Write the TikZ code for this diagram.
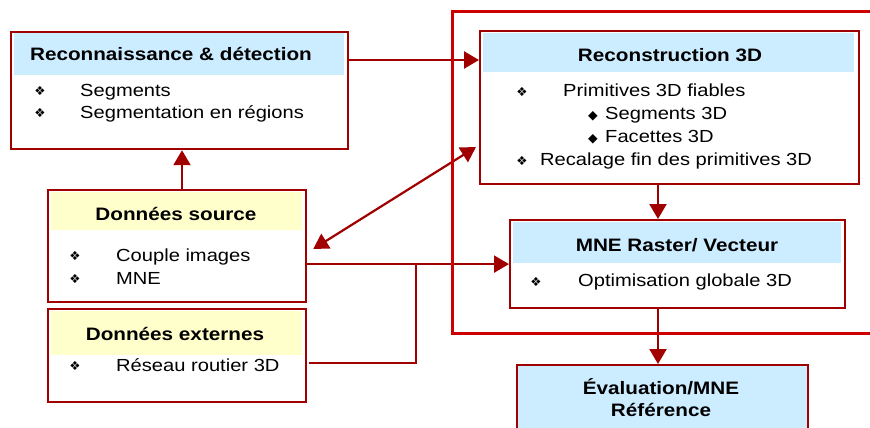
\documentclass[tikz,border=0pt]{standalone}
\usepackage{fontspec}
\setmainfont[FakeStretch=1.15]{Liberation Sans}
\newfontfamily\dv{DejaVu Sans}
\usetikzlibrary{arrows.meta,calc}
\definecolor{bd}{RGB}{160,0,0}
\definecolor{fr}{RGB}{204,0,0}
\definecolor{hb}{RGB}{204,236,255}
\definecolor{hy}{RGB}{255,255,204}
\begin{document}
\begin{tikzpicture}[x=1pt,y=-1pt,
 box/.style={draw=bd,line width=2.2pt,fill=white,anchor=north west,inner sep=0pt},
 hdr/.style={fill=#1,draw=none,anchor=north west,inner sep=0pt},
 ttl/.style={font=\fontsize{18}{21}\selectfont\bfseries,anchor=base,inner sep=0pt,align=center},
 itm/.style={font=\fontsize{17.5}{20}\selectfont,anchor=base west,inner sep=0pt},
 blt/.style={font=\dv\fontsize{12.5}{12}\selectfont,anchor=base,inner sep=0pt,yshift=0.5pt},
 arr/.style={draw=bd,line width=2.2pt,-{Triangle[length=15pt,width=17pt]}},
 darr/.style={draw=bd,line width=2.2pt,{Triangle[length=15pt,width=17pt]}-{Triangle[length=15pt,width=17pt]}},
 ln/.style={draw=bd,line width=2.2pt},
 frame/.style={draw=fr,line width=3pt}]
\useasboundingbox (0,0) rectangle (870,428);
\fill[white] (0,0) rectangle (870,428);

% boxes
\node[box,minimum width=337pt,minimum height=117pt] (RD) at (10,31) {};
\node[hdr=hb,minimum width=330pt,minimum height=42pt] (RDh) at (14,33) {};
\node[ttl] (RDt) at (171,60.5) {Reconnaissance \& détection};
\node[blt] (RDb1) at (40,96) {❖};
\node[itm] (RDi1) at (80,96) {Segments};
\node[blt] (RDb2) at (40,118) {❖};
\node[itm] (RDi2) at (80,118) {Segmentation en régions};

\node[box,minimum width=379pt,minimum height=153pt] (RC) at (479,30) {};
\node[hdr=hb,minimum width=371pt,minimum height=39pt] (RCh) at (483,33) {};
\node[ttl] (RCt) at (670,62) {Reconstruction 3D};
\node[blt] (RCb1) at (522,96.5) {❖};
\node[itm] (RCi1) at (563,96.5) {Primitives 3D fiables};
\node[blt] (RCb2) at (593,119.5) {◆};
\node[itm] (RCi2) at (605,119.5) {Segments 3D};
\node[blt] (RCb3) at (593,142.5) {◆};
\node[itm] (RCi3) at (605,142.5) {Facettes 3D};
\node[blt] (RCb4) at (522,165.5) {❖};
\node[itm] (RCi4) at (540,165.5) {Recalage fin des primitives 3D};

\node[box,minimum width=335pt,minimum height=88pt] (MN) at (509,219) {};
\node[hdr=hb,minimum width=328pt,minimum height=41pt] (MNh) at (513,222) {};
\node[ttl] (MNt) at (677,251.5) {MNE Raster/ Vecteur};
\node[blt] (MNb1) at (536,286.5) {❖};
\node[itm] (MNi1) at (578,286.5) {Optimisation globale 3D};

\node[box,fill=hb,minimum width=291pt,minimum height=90pt] (EV) at (516,364) {};
\node[ttl] (EVt1) at (661,394) {Évaluation/MNE};
\node[ttl] (EVt2) at (661,416.5) {Référence};

\node[box,minimum width=258pt,minimum height=112pt] (DS) at (47,189) {};
\node[hdr=hy,minimum width=251pt,minimum height=38pt] (DSh) at (51,192) {};
\node[ttl] (DSt) at (176,220.5) {Données source};
\node[blt] (DSb1) at (75,261) {❖};
\node[itm] (DSi1) at (116,261) {Couple images};
\node[blt] (DSb2) at (75,284) {❖};
\node[itm] (DSi2) at (116,284) {MNE};

\node[box,minimum width=258pt,minimum height=93pt] (DE) at (47,308) {};
\node[hdr=hy,minimum width=251pt,minimum height=44pt] (DEh) at (51,311) {};
\node[ttl] (DEt) at (175,340) {Données externes};
\node[blt] (DEb1) at (75,371) {❖};
\node[itm] (DEi1) at (116,371) {Réseau routier 3D};

% connectors
\draw[arr] (DS.north -| 182,0) -- (RD.south -| 182,0);
\coordinate (a1) at ($(RD.north east)+(0,29)$);
\draw[arr] (a1) -- (RC.west |- a1);
\coordinate (d1) at ($(DS.north east)+(6,60)$);
\coordinate (d2) at ($(RC.north west)+(-3,117)$);
\draw[darr] (d1) -- (d2);
\coordinate (s1) at (DS.east |- MN.west);
\draw[arr] (s1) -- (MN.west);
\coordinate (e1) at ($(DE.north east)+(2,55)$);
\coordinate (j1) at (416,0);
\draw[ln] (e1) -- (e1 -| j1) -- (j1 |- s1);
\coordinate (r1) at (658,0);
\draw[arr] (RC.south -| r1) -- (MN.north -| r1);
\draw[arr] (MN.south -| r1) -- (EV.north -| r1);

% big frame
\draw[frame] (452,12) rectangle (900,333);
\end{tikzpicture}
\end{document}
